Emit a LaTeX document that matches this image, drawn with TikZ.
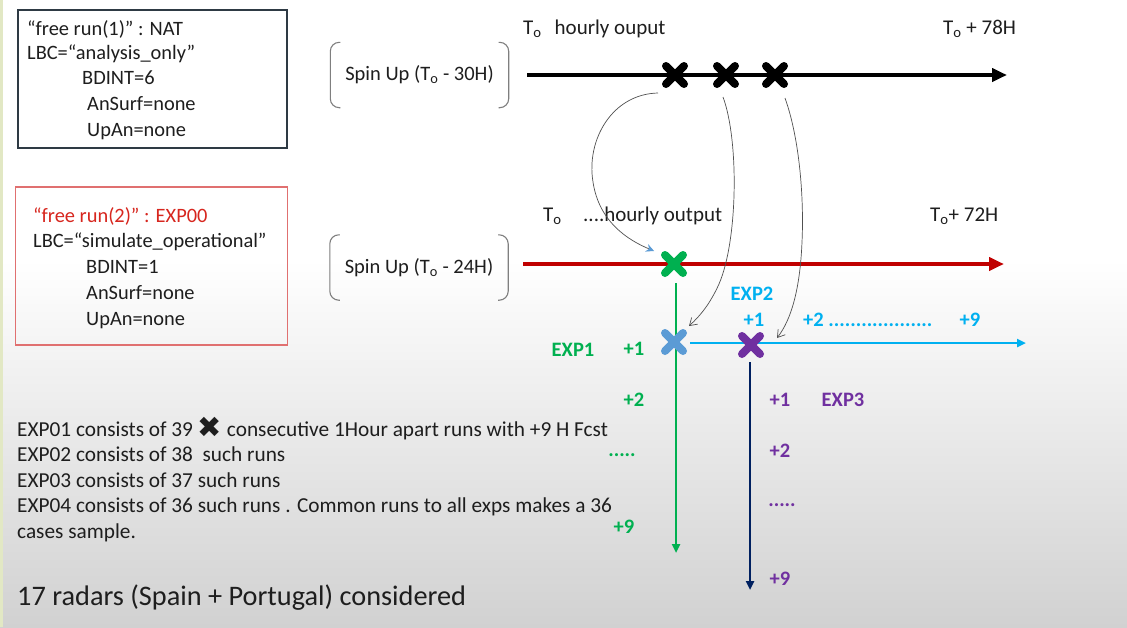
\documentclass[tikz,border=0pt]{standalone}
\usepackage{fontspec}
\setmainfont{Carlito}
\newfontfamily\dingfont{DejaVu Sans}
\usetikzlibrary{arrows.meta,shapes.misc,calc}

\definecolor{framegray}{HTML}{2E3A44}
\definecolor{framered}{HTML}{E07070}
\definecolor{titlered}{HTML}{D7261E}
\definecolor{runred}{HTML}{C00000}
\definecolor{expgreen}{HTML}{00B050}
\definecolor{expcyan}{HTML}{00B0F0}
\definecolor{exppurple}{HTML}{7030A0}
\definecolor{expnavy}{HTML}{002060}
\definecolor{xblue}{HTML}{5B9BD5}
\definecolor{inkgray}{HTML}{1E1E1E}
\definecolor{bracketgray}{HTML}{7F7F7F}
\definecolor{pencil}{HTML}{505050}
\definecolor{edgeolive}{HTML}{E2E8C4}

\newcommand\Tsub{T\textsubscript{o}}

\begin{document}
\begin{tikzpicture}[x=1pt,y=-1pt,
  txt/.style={anchor=base west, inner sep=0pt, text=inkgray,
    font=\fontsize{20.4}{24}\selectfont},
  note/.style={txt, font=\fontsize{21.3}{25}\selectfont},
  lbl/.style={inner sep=0pt, font=\bfseries\fontsize{20.5}{24}\selectfont},
  frame/.style={draw, rectangle, inner sep=0pt, fill=none},
  spin/.style={inner sep=0pt, text=inkgray, font=\fontsize{20.5}{24}\selectfont,
    minimum width=178pt, minimum height=65pt},
  bracket/.style={draw=bracketgray, line width=1.1pt, rounded corners=9pt},
  xmark/.style={cross out, draw=#1, line width=8pt, line cap=round,
    minimum size=10pt, inner sep=0pt},
  timeline/.style={line width=4pt, -{Triangle[length=15pt,width=13pt]}},
  forecast/.style={line width=2.4pt, -{Triangle[length=9pt,width=8pt]}},
  hand/.style={draw=pencil, line width=0.7pt, -{Straight Barb[length=7pt,width=9pt]}}
]
\useasboundingbox (0,0) rectangle (1127,627);
% background: white paper fading to light grey
\fill[white] (0,0) rectangle (1127,627);
\shade[top color=white, bottom color=black!18] (0,260) rectangle (1127,627);
\fill[edgeolive] (0,0) rectangle (2.5,627);

% ---- free run (1) settings box
\node[frame, draw=framegray, line width=1.8pt, minimum width=269pt, minimum height=138pt]
  (box1) at (152.5,79) {};
\node[txt] (b1l1) at (27,35) {“free run(1)” : NAT};
\node[txt] (b1l2) at (27,59) {LBC=“analysis\_only”};
\node[txt] (b1l3) at (82,84) {BDINT=6};
\node[txt] (b1l4) at (87,110) {AnSurf=none};
\node[txt] (b1l5) at (87,136) {UpAn=none};

% ---- free run (2) settings box
\node[frame, draw=framered, line width=1.2pt, minimum width=272pt, minimum height=158pt]
  (box2) at (151.5,266) {};
\node[txt, text=titlered] (b2l1) at (33,222) {“free run(2)” : EXP00};
\node[txt] (b2l2) at (33,247) {LBC=“simulate\_operational”};
\node[txt] (b2l3) at (86,273) {BDINT=1};
\node[txt] (b2l4) at (86,299) {AnSurf=none};
\node[txt] (b2l5) at (86,325) {UpAn=none};

% ---- spin-up periods with their brackets
\node[spin] (spin1) at (419.5,75) {Spin Up (\Tsub{} - 30H)};
\draw[bracket] ($(spin1.north west)+(10,0)$) -- (spin1.north west) -- (spin1.south west) -- ++(10,0);
\draw[bracket] ($(spin1.north east)+(-10,0)$) -- (spin1.north east) -- (spin1.south east) -- ++(-10,0);
\node[spin] (spin2) at (419,267.5) {Spin Up (\Tsub{} - 24H)};
\draw[bracket] ($(spin2.north west)+(10,0)$) -- (spin2.north west) -- (spin2.south west) -- ++(10,0);
\draw[bracket] ($(spin2.north east)+(-10,0)$) -- (spin2.north east) -- (spin2.south east) -- ++(-10,0);

% ---- NAT timeline
\coordinate (nat0) at (527,75);
\coordinate (nat1) at (1007,75);
\draw[timeline, black] (nat0) -- (nat1);
\node[txt, font=\fontsize{21}{24}\selectfont] (natT) at (523,34) {\Tsub\hspace{13pt}hourly ouput};
\node[txt, font=\fontsize{21}{24}\selectfont] (natE) at (943,34) {\Tsub{} + 78H};
\node[xmark=black] (nx1) at (675,75) {};
\node[xmark=black] (nx2) at (726,75) {};
\node[xmark=black] (nx3) at (775,75) {};

% ---- EXP00 timeline
\coordinate (ref0) at (523,264);
\coordinate (ref1) at (1004,264);
\draw[timeline, runred] (ref0) -- (ref1);
\node[txt, font=\fontsize{21}{24}\selectfont] (refT) at (543,221) {\Tsub};
\node[txt, font=\fontsize{21}{24}\selectfont] (refH) at (583,221) {....hourly output};
\node[txt, font=\fontsize{21}{24}\selectfont] (refE) at (930,221) {\Tsub+ 72H};

% ---- experiment forecast axes
\coordinate (e1a) at (676,283);
\coordinate (e1b) at (676,553);
\draw[forecast, expgreen] (e1a) -- (e1b);
\coordinate (e2a) at (690,343);
\coordinate (e2b) at (1026,343);
\draw[forecast, expcyan] (e2a) -- (e2b);
\coordinate (e3a) at (750,362);
\coordinate (e3b) at (750,590);
\draw[forecast, expnavy] (e3a) -- (e3b);

\node[xmark=expgreen] (gx) at (674,264) {};
\node[xmark=xblue] (bx) at (674,342) {};
\node[xmark=exppurple] (px) at (751,345) {};

% ---- hand-drawn links from the NAT runs to the experiment starts
\coordinate (h1s) at (658,93);
\coordinate (h1e) at (654,251);
\draw[draw=pencil, line width=0.7pt, -{Stealth[length=8pt,width=8pt,color=xblue]}]
  (h1s) .. controls (612,94) and (586,140) .. (593,182)
        .. controls (599,222) and (628,240) .. (h1e);
\coordinate (h2s) at (723,97);
\coordinate (h2e) at (689,326);
\draw[hand] (h2s) .. controls (739,140) and (738,240) .. (719,284)
        .. controls (710,304) and (700,316) .. (h2e);
\coordinate (h3s) at (785,98);
\coordinate (h3e) at (777,338);
\draw[hand] (h3s) .. controls (800,140) and (804,200) .. (802,242)
        .. controls (800,290) and (791,320) .. (h3e);

% ---- step labels
\node[lbl, text=expcyan] (l2) at (752,294) {EXP2};
\node[lbl, text=expcyan] (l2p1) at (754,320) {+1};
\node[lbl, text=expcyan, anchor=west] (l2p2) at (803,320) {+2 ...................};
\node[lbl, text=expcyan] (l2p9) at (970,320) {+9};
\node[lbl, text=expgreen] (l1) at (573,350) {EXP1};
\node[lbl, text=expgreen] (l1p1) at (634,349) {+1};
\node[lbl, text=expgreen] (l1p2) at (634,400) {+2};
\node[lbl, text=expgreen] (l1pd) at (622,455) {.....};
\node[lbl, text=expgreen] (l1p9) at (624,527) {+9};
\node[lbl, text=exppurple] (l3p1) at (780,400) {+1};
\node[lbl, text=exppurple] (l3) at (843,400) {EXP3};
\node[lbl, text=exppurple] (l3p2) at (780,451) {+2};
\node[lbl, text=exppurple] (l3pd) at (782,505) {.....};
\node[lbl, text=exppurple] (l3p9) at (780,579) {+9};

% ---- notes
\node[note] (n1) at (17,436) {EXP01 consists of 39 {\dingfont\fontsize{29}{29}\selectfont\raisebox{-1.5pt}{✖}} consecutive 1Hour apart runs with +9 H Fcst};
\node[note] (n2) at (17,461) {EXP02 consists of 38~ such runs};
\node[note] (n3) at (17,487) {EXP03 consists of 37 such runs};
\node[note] (n4) at (17,512) {EXP04 consists of 36 such runs . Common runs to all exps makes a 36};
\node[note] (n5) at (17,538) {cases sample.};
\node[txt, font=\fontsize{28.3}{32}\selectfont] (n6) at (17,605) {17 radars (Spain + Portugal) considered};
\end{tikzpicture}
\end{document}
